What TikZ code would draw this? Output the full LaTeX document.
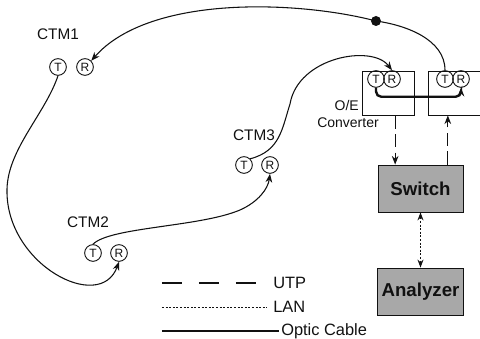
\documentclass[tikz,border=0pt]{standalone}
\usepackage{fontspec}
\setmainfont{Liberation Sans}
\usepackage{xcolor}
\usepackage{tikz}
\usetikzlibrary{positioning, arrows.meta, calc}
\definecolor{tmInk}{HTML}{111111}
\definecolor{tmGray}{HTML}{A8A8A8}
\tikzset{
  port/.style ={draw=tmInk, circle, minimum size=12.5pt, inner sep=0pt, line width=0.7pt, font=\fontsize{9}{9}\selectfont, text=tmInk},
  conv/.style ={draw=tmInk, line width=0.6pt, minimum width=39pt, minimum height=33pt, inner sep=0pt},
  dev/.style  ={draw=tmInk, fill=tmGray, line width=0.6pt, minimum width=63.75pt, minimum height=35.25pt, font=\fontsize{14}{15}\selectfont\bfseries, text=tmInk},
  lbl/.style  ={font=\fontsize{11.5}{13}\selectfont, text=tmInk, inner sep=0pt},
  key/.style  ={font=\fontsize{12.3}{14}\selectfont, text=tmInk, inner sep=0pt, anchor=west},
  optic/.style={-{Stealth[length=6.5pt,width=5pt]}, line width=0.8pt, tmInk},
  link/.style ={-{Stealth[length=6.5pt,width=5pt]}, line width=1.8pt, tmInk, rounded corners=4pt},
  utp/.style  ={-{Stealth[length=6.5pt,width=5pt]}, line width=0.8pt, tmInk, dash pattern=on 10pt off 4pt},
  lan/.style  ={{Stealth[length=6pt,width=4.5pt]}-{Stealth[length=6pt,width=4.5pt]}, line width=0.9pt, tmInk, dash pattern=on 1.5pt off 1.2pt},
}

\begin{document}
\begin{tikzpicture}[x=0.75pt, y=0.75pt]
\useasboundingbox (0,0) rectangle (480,339);

% ---- CTM terminals ----
\node[lbl] (m1) at (58,305) {CTM1};
\node[port] (c1t) at (58,272) {T};
\node[port] (c1r) at (85,272) {R};
\node[lbl] (m2) at (88,117) {CTM2};
\node[port] (c2t) at (93,86) {T};
\node[port] (c2r) at (119,86) {R};
\node[lbl] (m3) at (254,204) {CTM3};
\node[port] (c3t) at (244,174) {T};
\node[port] (c3r) at (270,174) {R};

% ---- O/E converters ----
\node[conv] (oe1) at (388,246) {};
\node[conv] (oe2) at (454.5,246) {};
\node[port] (v1t) at (376,260) {T};
\node[port] (v1r) at (392,260) {R};
\node[port] (v2t) at (445,260) {T};
\node[port] (v2r) at (461,260) {R};
\node[lbl, anchor=east, font=\fontsize{10.5}{12}\selectfont] (oel) at (359,233) {O/E};
\node[lbl, font=\fontsize{10.5}{12}\selectfont] (cvl) at (348,216) {Converter};

% ---- switch and analyzer ----
\node[dev] (sw) at (420.5,150.5) {Switch};
\node[dev] (an) at (420.5,47.5) {Analyzer};

% ---- optic ring ----
\node[fill=tmInk, circle, inner sep=0pt, minimum size=7.5pt] (splice) at (376,318) {};
\draw[optic] (v2t.north) .. controls (445,300) and (405,314) .. (splice.center)
  .. controls (300,338) and (150,345) .. (c1r.north east);
\draw[optic] (c1t.south) .. controls (45,225) and (8,190) .. (7,150)
  .. controls (5,75) and (100,25) .. (c2r.south);
\draw[optic] (c2t.north) .. controls (110,112) and (200,112) .. (240,129)
  .. controls (258,137) and (268,150) .. (c3r.south);
\draw[optic] (c3t.north east) .. controls (280,188) and (282,210) .. (290,235)
  .. controls (298,282) and (372,295) .. (v1r.north);
\draw[link] (v1t.south) -- ++(0,-9) -| (v2r.south);

% ---- UTP / LAN links ----
\coordinate (u1) at ([xshift=-19pt]sw.north);
\coordinate (u2) at ([xshift=20.5pt]sw.north);
\draw[utp] (u1 |- oe1.south) -- (u1);
\draw[utp] (u2) -- (u2 |- oe2.south);
\draw[lan] (sw.south) -- (an.north);

% ---- legend ----
\node[key] (kutp) at (273,56) {UTP};
\node[key] (klan) at (273,32) {LAN};
\node[key] (kopt) at (281,8) {Optic Cable};
\draw[line width=0.9pt, tmInk, dash pattern=on 15pt off 12.75pt] ([xshift=-83.25pt]kutp.west) -- ([xshift=-12.75pt]kutp.west);
\draw[line width=0.6pt, tmInk, dash pattern=on 1.5pt off 1.2pt] ([xshift=-83.25pt]klan.west) -- ([xshift=-4.5pt]klan.west);
\draw[line width=0.8pt, tmInk] ([xshift=-89.25pt]kopt.west) -- ([xshift=-1.5pt]kopt.west);
\end{tikzpicture}
\end{document}
